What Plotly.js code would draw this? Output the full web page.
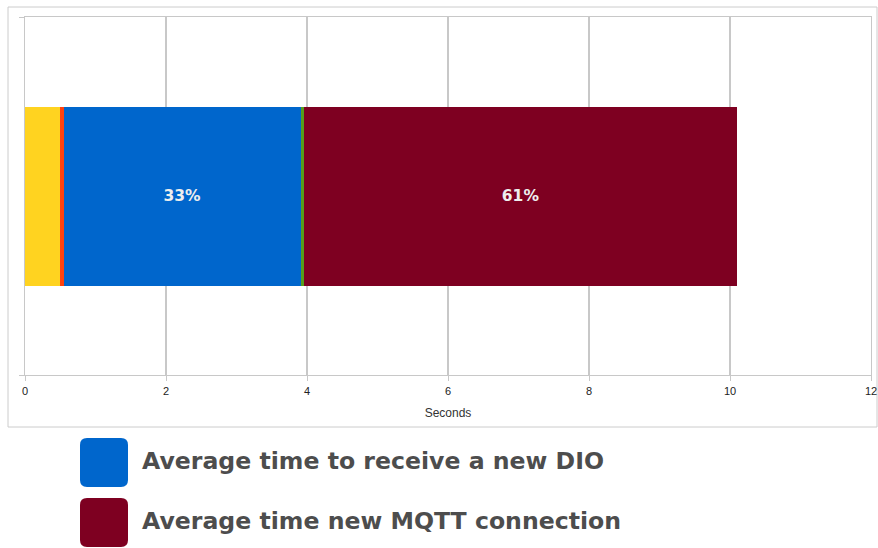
<!DOCTYPE html>
<html><head><meta charset="utf-8">
<script src="https://cdn.plot.ly/plotly-3.0.1.min.js"></script>
<style>html,body{margin:0;padding:0;background:#fff}#c{width:878px;height:548px}</style>
</head><body><div id="c"></div>
<script>
// Data (seconds)
const segmentNames = ["Phase 1", "Phase 2", "Average time to receive a new DIO", "Phase 4", "Average time new MQTT connection"];
const segmentValues = [0.50, 0.05, 3.36, 0.05, 6.14];
const segmentColors = ["#FFD320", "#FF420E", "#0066CC", "#579D1C", "#7E0021"];
const showLabel = [false, false, true, false, true];
const legendNames = ["Average time to receive a new DIO", "Average time new MQTT connection"];
const legendColors = ["#0066CC", "#7E0021"];
const xTicks = [0, 2, 4, 6, 8, 10, 12];
const xTitle = "Seconds";

const W = 878, H = 548, L = 25, R = 7, T = 17, B = 173;
const pw = W - L - R, ph = H - T - B;
const px = x => (x - L) / pw;
const py = y => (H - B - y) / ph;

const total = segmentValues.reduce((a, b) => a + b, 0);
const traces = segmentValues.map((v, i) => ({
  type: "bar", orientation: "h", y: [0], x: [v], width: 1,
  name: segmentNames[i],
  marker: {color: segmentColors[i], line: {width: 0}},
  text: showLabel[i] ? [Math.round(v / total * 100) + "%"] : [""],
  textposition: "inside", insidetextanchor: "middle",
  textfont: {family: "DejaVu Sans", size: 15.5, color: "#eeeeee", weight: "bold"},
  hoverinfo: "x+name", showlegend: false
}));

function rrect(x0, y0, x1, y1, r) {
  const rx = r / pw, ry = r / ph;
  const a = px(x0), b = px(x1), top = py(y0), bot = py(y1);
  return `M${a + rx},${top} L${b - rx},${top} Q${b},${top} ${b},${top - ry} L${b},${bot + ry} Q${b},${bot} ${b - rx},${bot} L${a + rx},${bot} Q${a},${bot} ${a},${bot + ry} L${a},${top - ry} Q${a},${top} ${a + rx},${top} Z`;
}

const shapes = [{type: "rect", xref: "paper", yref: "paper", x0: px(8), x1: px(877), y0: py(427), y1: py(7),
  line: {color: "#cccccc", width: 1}, fillcolor: "rgba(0,0,0,0)", layer: "below"}];
const annotations = [];
legendNames.forEach((n, i) => {
  const top = 438 + i * 60;
  shapes.push({type: "path", xref: "paper", yref: "paper", path: rrect(80, top, 128, top + 49, 7),
    fillcolor: legendColors[i], line: {width: 0}});
  annotations.push({xref: "paper", yref: "paper", x: px(140), y: py(top + 23), xanchor: "left", yanchor: "middle",
    text: n, showarrow: false, font: {family: "DejaVu Sans", size: 23.6, color: "#4d4d4d", weight: "bold"}});
});

const axFont = {family: "Liberation Sans", size: 11, color: "#222"};
const layout = {
  width: W, height: H, margin: {l: L, r: R, t: T, b: B}, showlegend: false,
  paper_bgcolor: "#fff", plot_bgcolor: "#fff", barmode: "stack", bargap: 0,
  xaxis: {range: [0, 12], tickvals: xTicks, ticktext: xTicks.map(String), showgrid: true, gridcolor: "#c8c8c8", gridwidth: 1.3,
    zeroline: false, showline: true, mirror: true, linecolor: "#c8c8c8", linewidth: 1.3, ticks: "outside", ticklen: 5, tickcolor: "#c8c8c8",
    tickfont: axFont,
    title: {text: xTitle, font: {family: "Liberation Sans", size: 12, color: "#333"}, standoff: 13}},
  yaxis: {range: [-1, 1], tickvals: [-1, 1], showticklabels: false, showgrid: true, gridcolor: "#c8c8c8", gridwidth: 1.3,
    zeroline: false, showline: true, mirror: true, linecolor: "#c8c8c8", linewidth: 1.3, ticks: "outside", ticklen: 5, tickcolor: "#c8c8c8", fixedrange: true},
  shapes: shapes, annotations: annotations
};
Plotly.newPlot("c", traces, layout, {displayModeBar: false, staticPlot: true});
</script></body></html>
